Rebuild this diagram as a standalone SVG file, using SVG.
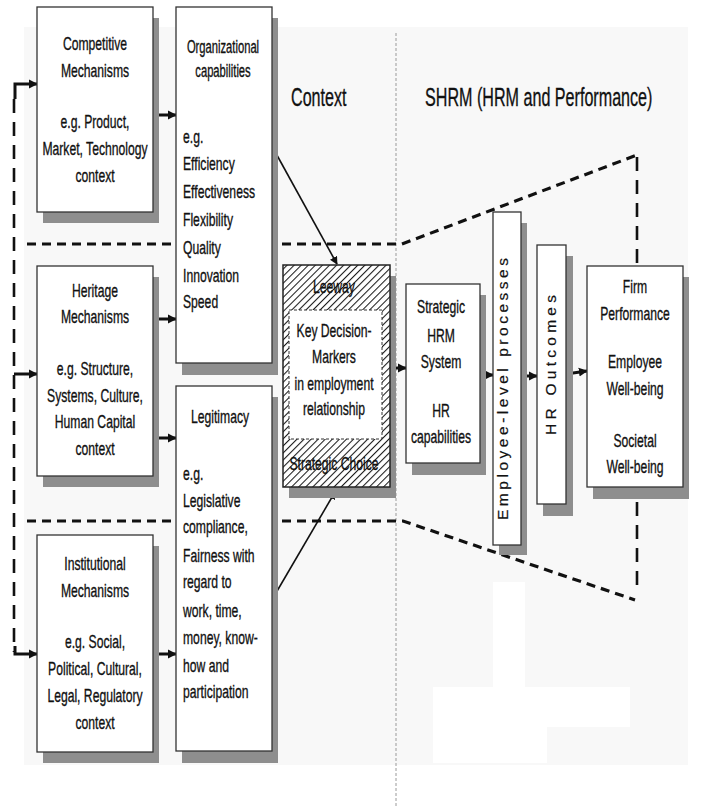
<svg xmlns="http://www.w3.org/2000/svg" width="702" height="807" viewBox="0 0 702 807">
<style>
.t{font-family:"Liberation Sans",Arial,sans-serif;font-size:19px;fill:#111;stroke:#111;stroke-width:0.35;}
.c{text-anchor:middle;}
.box{fill:#fff;stroke:#333;stroke-width:1.3;}
.sh{fill:#8e8e8e;}
.dash{fill:none;stroke:#111;stroke-width:3.2;stroke-dasharray:9 6;}
.arr{fill:none;stroke:#111;stroke-width:3;marker-end:url(#ah);}
.thin{fill:none;stroke:#111;stroke-width:1.6;marker-end:url(#ah2);}
</style>
<defs>
<marker id="ah" viewBox="0 0 10 10" refX="9" refY="5" markerUnits="userSpaceOnUse" markerWidth="9" markerHeight="10" orient="auto"><path d="M0,0 L10,5 L0,10 z" fill="#111"/></marker>
<marker id="ah2" viewBox="0 0 10 10" refX="9" refY="5" markerUnits="userSpaceOnUse" markerWidth="8" markerHeight="8" orient="auto"><path d="M0,0 L10,5 L0,10 z" fill="#111"/></marker>
<pattern id="hatch" patternUnits="userSpaceOnUse" width="5" height="5" patternTransform="rotate(45)"><rect width="5" height="5" fill="#fff"/><line x1="0" y1="0" x2="0" y2="5" stroke="#1a1a1a" stroke-width="2.1"/></pattern>
</defs>
<rect x="0" y="0" width="702" height="807" fill="#fff"/>
<rect x="24" y="27" width="664" height="738" fill="#f8f8f8"/>
<path d="M493,582 H525 V687 H630 V727 H547 V763 H433 V687 H493 Z" fill="#fff"/>
<line x1="396" y1="33" x2="396" y2="807" stroke="#9a9a9a" stroke-width="1" stroke-dasharray="3 2"/>
<text class="t" transform="translate(291 106) scale(0.62 1)" style="font-size:26px">Context</text>
<text class="t" transform="translate(425 106) scale(0.62 1)" style="font-size:26px">SHRM (HRM and Performance)</text>

<g id="connectors">
<path class="dash" d="M27,244 H402 L637,155"/>
<path class="dash" d="M27,521 H403 L635,600"/>
<line x1="637" y1="157" x2="637" y2="588" stroke="#111" stroke-width="2.6" stroke-dasharray="14 9"/>
<line x1="14" y1="99" x2="14" y2="652" stroke="#111" stroke-width="2.6" stroke-dasharray="14 9"/>
<path class="arr" d="M15,99 V84 H37"/>
<path class="arr" d="M14,374 H37"/>
<path class="arr" d="M15,646 V654 H37"/>
<path class="arr" d="M153,115 H176"/>
<path class="arr" d="M153,319 H176"/>
<path class="arr" d="M153,438 H176"/>
<path class="arr" d="M153,654 H176"/>
<path class="thin" d="M273,148 L337,264"/>
<path class="thin" d="M273,598 L335,492"/>
<path class="arr" d="M390,368 H406"/>
<path class="arr" d="M480,375 H493"/>
<path class="arr" d="M522,376 H537"/>
<path class="arr" d="M566,374 L587,371"/>
</g>

<g id="competitive">
<rect class="sh" x="43" y="18" width="116" height="205"/>
<rect class="box" x="37" y="7" width="116" height="205"/>
<g transform="translate(95 0) scale(0.64 1)"><text class="t c">
<tspan x="0" y="50">Competitive</tspan><tspan x="0" y="77">Mechanisms</tspan><tspan x="0" y="128">e.g. Product,</tspan><tspan x="0" y="155">Market, Technology</tspan><tspan x="0" y="182">context</tspan></text></g>
</g>

<g id="heritage">
<rect class="sh" x="43" y="277" width="116" height="210"/>
<rect class="box" x="37" y="266" width="116" height="210"/>
<g transform="translate(95 0) scale(0.64 1)"><text class="t c">
<tspan x="0" y="297">Heritage</tspan><tspan x="0" y="323">Mechanisms</tspan><tspan x="0" y="375">e.g. Structure,</tspan><tspan x="0" y="402">Systems, Culture,</tspan><tspan x="0" y="428">Human Capital</tspan><tspan x="0" y="455">context</tspan></text></g>
</g>

<g id="institutional">
<rect class="sh" x="43" y="546" width="116" height="217"/>
<rect class="box" x="37" y="535" width="116" height="217"/>
<g transform="translate(95 0) scale(0.64 1)"><text class="t c">
<tspan x="0" y="570">Institutional</tspan><tspan x="0" y="597">Mechanisms</tspan><tspan x="0" y="648">e.g. Social,</tspan><tspan x="0" y="675">Political, Cultural,</tspan><tspan x="0" y="702">Legal, Regulatory</tspan><tspan x="0" y="729">context</tspan></text></g>
</g>

<g id="org-capabilities">
<rect class="sh" x="182" y="18" width="96" height="357"/>
<rect class="box" x="176" y="7" width="96" height="356"/>
<g transform="translate(223 0) scale(0.64 1)"><text class="t c" style="font-size:17.5px">
<tspan x="0" y="53">Organizational</tspan><tspan x="0" y="77">capabilities</tspan></text></g>
<g transform="translate(183 0) scale(0.64 1)"><text class="t">
<tspan x="0" y="143">e.g.</tspan><tspan x="0" y="170">Efficiency</tspan><tspan x="0" y="198">Effectiveness</tspan><tspan x="0" y="226">Flexibility</tspan><tspan x="0" y="254">Quality</tspan><tspan x="0" y="282">Innovation</tspan><tspan x="0" y="308">Speed</tspan></text></g>
</g>

<g id="legitimacy">
<rect class="sh" x="182" y="397" width="96" height="366"/>
<rect class="box" x="176" y="386" width="96" height="365"/>
<g transform="translate(220 0) scale(0.64 1)"><text class="t c"><tspan x="0" y="423">Legitimacy</tspan></text></g>
<g transform="translate(183 0) scale(0.64 1)"><text class="t">
<tspan x="0" y="480">e.g.</tspan><tspan x="0" y="507">Legislative</tspan><tspan x="0" y="533">compliance,</tspan><tspan x="0" y="562">Fairness with</tspan><tspan x="0" y="588">regard to</tspan><tspan x="0" y="617">work, time,</tspan><tspan x="0" y="644">money, know-</tspan><tspan x="0" y="672">how and</tspan><tspan x="0" y="698">participation</tspan></text></g>
</g>

<g id="key-decision-makers">
<rect class="sh" x="289" y="276" width="107" height="222"/>
<rect x="283" y="265" width="107" height="222" fill="url(#hatch)" stroke="#222" stroke-width="1.5"/>
<rect x="289" y="310" width="93" height="129" fill="#fff" stroke="#333" stroke-width="1" stroke-dasharray="3 2"/>
<g transform="translate(334 0) scale(0.64 1)"><text class="t c">
<tspan x="0" y="293">Leeway</tspan><tspan x="0" y="337">Key Decision-</tspan><tspan x="0" y="363">Markers</tspan><tspan x="0" y="390">in employment</tspan><tspan x="0" y="415">relationship</tspan><tspan x="0" y="470">Strategic Choice</tspan></text></g>
</g>

<g id="strategic-hrm">
<rect class="sh" x="412" y="295" width="74" height="180"/>
<rect class="box" x="406" y="284" width="74" height="179"/>
<g transform="translate(441 0) scale(0.64 1)"><text class="t c">
<tspan x="0" y="313">Strategic</tspan><tspan x="0" y="342">HRM</tspan><tspan x="0" y="368">System</tspan><tspan x="0" y="417">HR</tspan><tspan x="0" y="443">capabilities</tspan></text></g>
</g>

<g id="employee-level">
<rect class="sh" x="499" y="223" width="28" height="332"/>
<rect class="box" x="493" y="212" width="28" height="333"/>
<text class="t c" style="font-size:15.5px;stroke-width:0.2" transform="translate(508 389) rotate(-90)" x="0" y="0" textLength="262" lengthAdjust="spacing">Employee-level processes</text>
</g>

<g id="hr-outcomes">
<rect class="sh" x="543" y="256" width="30" height="260"/>
<rect class="box" x="537" y="245" width="29" height="259"/>
<text class="t c" style="font-size:15.5px;stroke-width:0.2" transform="translate(556 365) rotate(-90)" x="0" y="0" textLength="140" lengthAdjust="spacing">HR Outcomes</text>
</g>

<g id="firm-performance">
<rect class="sh" x="593" y="277" width="96" height="222"/>
<rect class="box" x="587" y="266" width="96" height="221"/>
<g transform="translate(635 0) scale(0.64 1)"><text class="t c">
<tspan x="0" y="293">Firm</tspan><tspan x="0" y="320">Performance</tspan><tspan x="0" y="368">Employee</tspan><tspan x="0" y="395">Well-being</tspan><tspan x="0" y="447">Societal</tspan><tspan x="0" y="473">Well-being</tspan></text></g>
</g>
</svg>
